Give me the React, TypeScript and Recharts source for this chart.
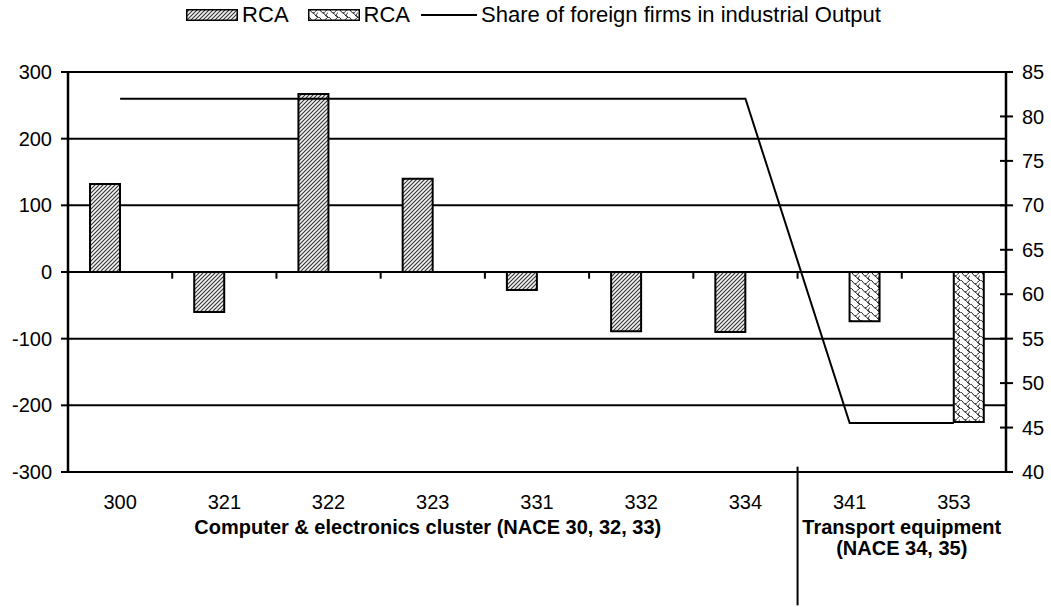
import React from 'react';
import {
  ComposedChart,
  Bar,
  Line,
  XAxis,
  YAxis,
  CartesianGrid,
  Legend,
  ReferenceLine,
} from 'recharts';

// ---- data ----
const categories = ['300', '321', '322', '323', '331', '332', '334', '341', '353'];
const rcaComputer: (number | null)[] = [132, -60, 267, 140, -27, -89, -90, null, null];
const rcaTransport: (number | null)[] = [null, null, null, null, null, null, null, -74, -225];
const foreignShare = [82, 82, 82, 82, 82, 82, 82, 45.5, 45.5];
const leftTicks = [-300, -200, -100, 0, 100, 200, 300];
const rightTicks = [40, 45, 50, 55, 60, 65, 70, 75, 80, 85];
const seriesNames = ['RCA', 'RCA', 'Share of foreign firms in industrial Output'];
const groupLabels = [
  { at: '323', lines: ['Computer & electronics cluster (NACE 30, 32, 33)'], atBandEnd: false },
  { at: '341', lines: ['Transport equipment', '(NACE 34, 35)'], atBandEnd: true },
];
const separatorAt = '341';

const data = categories.map((cat, i) => ({
  cat,
  rca1: rcaComputer[i],
  rca2: rcaTransport[i],
  share: foreignShare[i],
}));

const FONT = "Arial, 'Liberation Sans', sans-serif";

const PatternDefs = ({ prefix }: { prefix: string }) => (
  <defs>
    <pattern id={`${prefix}hatch`} patternUnits="userSpaceOnUse" width="4" height="4">
      <rect width="4" height="4" fill="#f2f2f2" />
      <path d="M-1,1 l2,-2 M0,4 l4,-4 M3,5 l2,-2" stroke="#333" strokeWidth="1.1" />
    </pattern>
    <pattern id={`${prefix}scale`} patternUnits="userSpaceOnUse" width="10" height="8">
      <rect width="10" height="8" fill="#ffffff" />
      <path
        d="M0,0 C3,0 3,4 5,4 C7,4 7,8 10,8 M5,4 C7,4 8,1 10,0 M0,8 C-2,8 -2,4 0,4 M10,4 C8,4 8,8 10,8"
        stroke="#222"
        strokeWidth="1"
        fill="none"
      />
    </pattern>
  </defs>
);

const LegendContent = (props: any) => {
  const payload = props.payload || [];
  return (
    <div
      style={{
        display: 'flex',
        justifyContent: 'center',
        alignItems: 'center',
        height: 30,
        fontSize: 22,
        fontFamily: FONT,
        color: '#000',
        paddingLeft: 16,
      }}
    >
      {payload.map((p: any, i: number) => {
        const key = p.dataKey;
        let swatch;
        if (key === 'share') {
          swatch = (
            <svg width={56} height={12} style={{ marginRight: 4, marginLeft: 11 }}>
              <line x1={0} x2={56} y1={6} y2={6} stroke="#000" strokeWidth={2} />
            </svg>
          );
        } else {
          const pid = `lg${i}`;
          swatch = (
            <svg width={52} height={12} style={{ marginRight: 4, marginLeft: i === 0 ? 0 : 19 }}>
              <PatternDefs prefix={pid} />
              <rect
                x={0.75}
                y={0.75}
                width={50.5}
                height={10.5}
                fill={`url(#${pid}${key === 'rca1' ? 'hatch' : 'scale'})`}
                stroke="#000"
                strokeWidth={1.5}
              />
            </svg>
          );
        }
        return (
          <span key={i} style={{ display: 'flex', alignItems: 'center' }}>
            {swatch}
            <span>{p.value}</span>
          </span>
        );
      })}
    </div>
  );
};

const XTick = (props: any) => {
  const { x, y, payload } = props;
  const half = typeof payload.offset === 'number' && payload.offset > 0 ? payload.offset : 52;
  const g = groupLabels.find((gl) => gl.at === payload.value);
  return (
    <g>
      <text x={x} y={y + 37} textAnchor="middle" fontSize={20} fill="#000" fontFamily={FONT}>
        {payload.value}
      </text>
      {g &&
        g.lines.map((line, i) => (
          <text
            key={i}
            x={g.atBandEnd ? x + half : x - 5}
            y={y + 62 + i * 21}
            textAnchor="middle"
            fontSize={20}
            fontWeight="bold"
            fill="#000"
            fontFamily={FONT}
          >
            {line}
          </text>
        ))}
    </g>
  );
};

const RightTick = (props: any) => {
  const { x, y, payload } = props;
  const axisX = x - 16;
  return (
    <g>
      <line x1={axisX - 6} x2={axisX} y1={y} y2={y} stroke="#000" strokeWidth={2} />
      <text x={x} y={y} dy="0.355em" textAnchor="start" fontSize={20} fill="#000" fontFamily={FONT}>
        {payload.value}
      </text>
    </g>
  );
};

export default function App() {
  return (
    <div style={{ position: 'absolute', left: 0, top: 0, fontFamily: FONT, background: '#fff' }}>
      <ComposedChart
        width={1051}
        height={607}
        data={data}
        margin={{ top: 42, right: 0, bottom: 0, left: 0 }}
        barGap={0}
        style={{ fontFamily: FONT }}
      >
        <PatternDefs prefix="c" />
        <Legend
          verticalAlign="top"
          align="center"
          content={<LegendContent />}
          wrapperStyle={{ top: 0, left: 0, width: 1051, height: 30 }}
        />
        <CartesianGrid
          yAxisId="left"
          vertical={false}
          horizontal
          stroke="#000"
          strokeWidth={2}
          horizontalValues={leftTicks}
        />
        <XAxis
          dataKey="cat"
          interval={0}
          axisLine={false}
          tickLine={false}
          tickSize={0}
          tickMargin={0}
          height={135}
          tick={<XTick />}
        />
        <YAxis
          yAxisId="left"
          orientation="left"
          domain={[-300, 300]}
          ticks={leftTicks}
          width={68}
          tickSize={7}
          tickMargin={9}
          axisLine={{ stroke: '#000', strokeWidth: 2.5 }}
          tickLine={{ stroke: '#000', strokeWidth: 2 }}
          tick={{ fill: '#000', fontSize: 20, fontFamily: FONT }}
          allowDataOverflow
        />
        <YAxis
          yAxisId="right"
          orientation="right"
          domain={[40, 85]}
          ticks={rightTicks}
          width={45}
          tickSize={7}
          tickMargin={9}
          axisLine={{ stroke: '#000', strokeWidth: 2.5 }}
          tickLine={{ stroke: '#000', strokeWidth: 2 }}
          tick={<RightTick />}
          allowDataOverflow
        />
        {categories.slice(1).map((c) => (
          <ReferenceLine
            key={`t${c}`}
            yAxisId="left"
            position="start"
            segment={[
              { x: c, y: 0 },
              { x: c, y: -10 },
            ]}
            stroke="#000"
            strokeWidth={2}
          />
        ))}
        <ReferenceLine
          yAxisId="left"
          position="start"
          ifOverflow="visible"
          segment={[
            { x: separatorAt, y: -292 },
            { x: separatorAt, y: -500 },
          ]}
          stroke="#000"
          strokeWidth={2}
        />
        <Bar
          yAxisId="left"
          dataKey="rca1"
          name={seriesNames[0]}
          fill="url(#chatch)"
          stroke="#000"
          strokeWidth={2}
          barSize={30}
          isAnimationActive={false}
        />
        <Bar
          yAxisId="left"
          dataKey="rca2"
          name={seriesNames[1]}
          fill="url(#cscale)"
          stroke="#000"
          strokeWidth={2}
          barSize={30}
          isAnimationActive={false}
        />
        <Line
          yAxisId="right"
          dataKey="share"
          name={seriesNames[2]}
          type="linear"
          stroke="#000"
          strokeWidth={2}
          dot={false}
          activeDot={false}
          isAnimationActive={false}
        />
      </ComposedChart>
    </div>
  );
}
